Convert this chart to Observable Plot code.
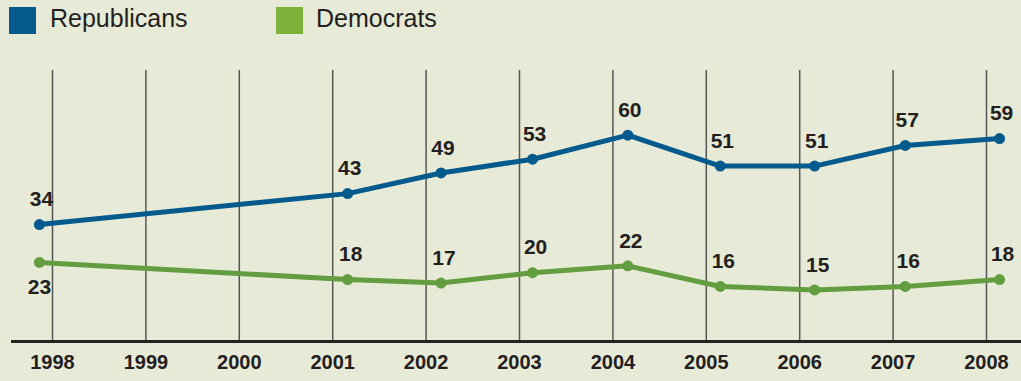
<!DOCTYPE html>
<html>
<head>
<meta charset="utf-8">
<script src="https://cdn.jsdelivr.net/npm/d3@7"></script>
<script src="https://cdn.jsdelivr.net/npm/@observablehq/plot@0.6"></script>
<style>
  html, body { margin: 0; padding: 0; background: #e7ead6; }
  body { width: 1021px; height: 381px; overflow: hidden; font-family: "Liberation Sans", Arial, sans-serif; }
  #legend { position: relative; height: 40px; }
  .sw { position: absolute; top: 7px; width: 27px; height: 27px; }
  .lt { position: absolute; top: 3px; font-size: 25px; color: #231f20; line-height: 30px; }
  #chart svg { display: block; }
</style>
</head>
<body>
<div id="legend"></div>
<div id="chart"></div>
<script>
// Data
const years = [1998, 1999, 2000, 2001, 2002, 2003, 2004, 2005, 2006, 2007, 2008];
const surveyDates = [1997.86, 2001.16, 2002.16, 2003.14, 2004.16, 2005.15, 2006.16, 2007.13, 2008.14];
const republicans = [34, 43, 49, 53, 60, 51, 51, 57, 59];
const democrats = [23, 18, 17, 20, 22, 16, 15, 16, 18];
const seriesNames = ["Republicans", "Democrats"];

const colors = { Republicans: "#045a8d", Democrats: "#629d3f" };
const legendColors = { Republicans: "#045a8d", Democrats: "#7db23a" };

// Legend
const legend = document.getElementById("legend");
const legendPos = [{ sw: 9, tx: 50 }, { sw: 276, tx: 316 }];
seriesNames.forEach((name, i) => {
  const s = document.createElement("div");
  s.className = "sw";
  s.style.left = legendPos[i].sw + "px";
  s.style.background = legendColors[name];
  legend.appendChild(s);
  const t = document.createElement("div");
  t.className = "lt";
  t.style.left = legendPos[i].tx + "px";
  t.textContent = name;
  legend.appendChild(t);
});

const rep = surveyDates.map((d, i) => ({ date: d, value: republicans[i], series: "Republicans" }));
const dem = surveyDates.map((d, i) => ({ date: d, value: democrats[i], series: "Democrats" }));

const yMax = 78.8;
const fontFamily = "Liberation Sans, Arial, sans-serif";
const yearStyle = { fontSize: 20, fontWeight: "bold", fill: "#231f20", fontFamily };
const labelStyle = { fontSize: 21, fontWeight: "bold", fill: "#231f20", fontFamily };

const chart = Plot.plot({
  width: 1021,
  height: 341,
  marginLeft: 52,
  marginRight: 35,
  marginTop: 30,
  marginBottom: 40,
  x: { type: "linear", domain: [1998, 2008], axis: null },
  y: { domain: [0, yMax], axis: null },
  style: { background: "transparent", fontFamily },
  marks: [
    Plot.ruleX(years, { x: d => d, y1: 0, y2: yMax, stroke: "#555", strokeWidth: 1.5 }),
    Plot.ruleY([0], { stroke: "#222", strokeWidth: 3, insetLeft: -41, insetRight: -35 }),
    Plot.text(years, { x: d => d, text: d => String(d), frameAnchor: "bottom", dy: 27, ...yearStyle }),
    Plot.line(rep, { x: "date", y: "value", stroke: colors.Republicans, strokeWidth: 5 }),
    Plot.dot(rep, { x: "date", y: "value", r: 5.5, fill: colors.Republicans }),
    Plot.line(dem, { x: "date", y: "value", stroke: colors.Democrats, strokeWidth: 5 }),
    Plot.dot(dem, { x: "date", y: "value", r: 5.5, fill: colors.Democrats }),
    Plot.text(rep, { x: "date", y: "value", text: d => String(d.value), dy: -25, dx: 2, ...labelStyle }),
    Plot.text(dem.slice(1), { x: "date", y: "value", text: d => String(d.value), dy: -25, dx: 3, ...labelStyle }),
    Plot.text(dem.slice(0, 1), { x: "date", y: "value", text: d => String(d.value), dy: 25, ...labelStyle })
  ]
});
document.getElementById("chart").appendChild(chart);
</script>
</body>
</html>
